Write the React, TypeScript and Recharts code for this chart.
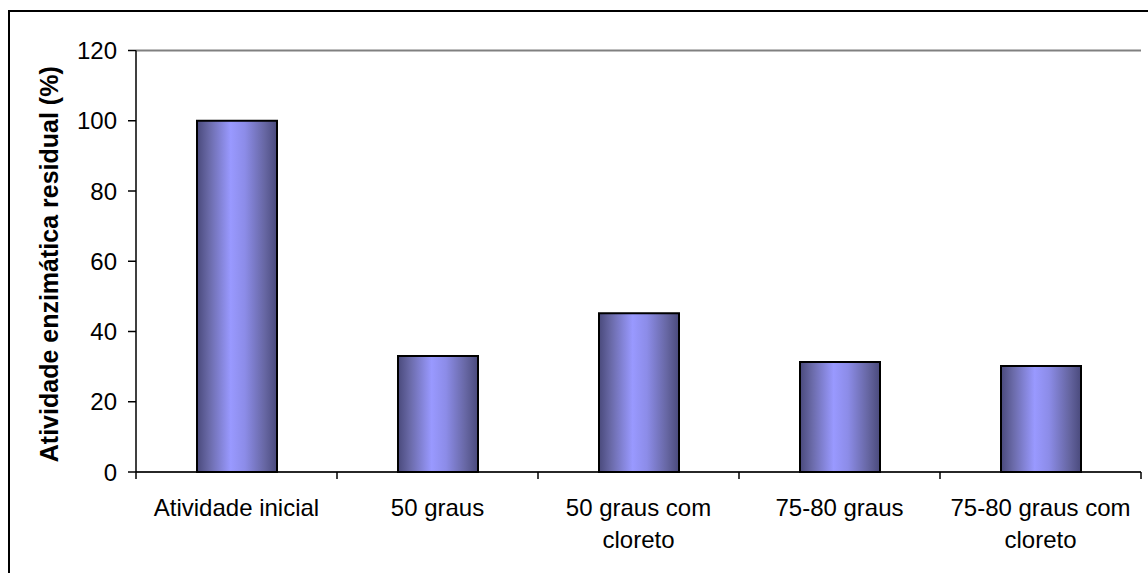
import { BarChart, Bar, XAxis, YAxis, CartesianGrid, ReferenceLine } from 'recharts';

const categories = [
  'Atividade inicial',
  '50 graus',
  '50 graus com cloreto',
  '75-80 graus',
  '75-80 graus com cloreto'
];
const atividade = [100, 33, 45.2, 31.3, 30.2];
const yTicks = [0, 20, 40, 60, 80, 100, 120];

const data = categories.map((name, i) => ({ name, value: atividade[i] }));

const FONT = '"Liberation Sans", Arial, sans-serif';
const BAND = 201;

function wrap(label: string, maxChars: number) {
  const words = label.split(' ');
  const lines: string[] = [];
  let cur = '';
  words.forEach((w) => {
    const next = cur ? cur + ' ' + w : w;
    if (next.length > maxChars && cur) {
      lines.push(cur);
      cur = w;
    } else {
      cur = next;
    }
  });
  if (cur) lines.push(cur);
  return lines;
}

function CategoryTick(props: any) {
  const { x, y, payload, index } = props;
  const lines = wrap(payload.value, 17);
  return (
    <g>
      {index === 0 && <line x1={x - BAND / 2} x2={x - BAND / 2} y1={y} y2={y + 7} stroke="#000" strokeWidth={1.5} />}
      <line x1={x + BAND / 2} x2={x + BAND / 2} y1={y} y2={y + 7} stroke="#000" strokeWidth={1.5} />
      {lines.map((l, i) => (
        <text key={i} x={x} y={y + 44 + i * 32} textAnchor="middle" fontSize={24} fontFamily={FONT} fill="#000">
          {l}
        </text>
      ))}
    </g>
  );
}

function YTitle(props: any) {
  const { viewBox } = props;
  const cx = 39;
  const cy = viewBox.y + viewBox.height / 2 + 3;
  return (
    <text
      x={cx}
      y={cy}
      transform={`rotate(-90 ${cx} ${cy})`}
      textAnchor="middle"
      dominantBaseline="central"
      fontSize={25}
      fontWeight="bold"
      fontFamily={FONT}
      fill="#000"
    >
      Atividade enzimática residual (%)
    </text>
  );
}

export default function App() {
  return (
    <div
      style={{
        position: 'absolute',
        left: 8,
        top: 10,
        borderLeft: '2px solid #000',
        borderTop: '2px solid #000',
        background: '#fff'
      }}
    >
      <BarChart width={1138} height={561} data={data} margin={{ top: 38.5, right: 7, left: 0, bottom: 11 }}>
        <defs>
          <linearGradient id="barShade" x1="0" y1="0" x2="1" y2="0">
            <stop offset="0%" stopColor="#4a4a7c" />
            <stop offset="15%" stopColor="#6a6aa8" />
            <stop offset="42%" stopColor="#9999ff" />
            <stop offset="60%" stopColor="#8c8ce8" />
            <stop offset="85%" stopColor="#6666a2" />
            <stop offset="100%" stopColor="#4a4a7c" />
          </linearGradient>
        </defs>
        <CartesianGrid vertical={false} stroke="#3a3a3a" strokeWidth={1.2} />
        <ReferenceLine yAxisId="left" y={120} stroke="#808080" strokeWidth={2} />
        <XAxis
          dataKey="name"
          height={90}
          tickLine={false}
          tickSize={0}
          tickMargin={0}
          axisLine={{ stroke: '#000', strokeWidth: 1.5 }}
          tick={<CategoryTick />}
          interval={0}
        />
        <YAxis
          yAxisId="left"
          width={126}
          domain={[0, 120]}
          ticks={yTicks}
          tickSize={8}
          tickMargin={11}
          axisLine={{ stroke: '#000', strokeWidth: 1.5 }}
          tickLine={{ stroke: '#000', strokeWidth: 1.5 }}
          tick={{ fontSize: 24, fontFamily: FONT, fill: '#000' }}
          label={<YTitle />}
        />
        <YAxis
          yAxisId="right"
          orientation="right"
          width={0}
          tick={false}
          tickLine={false}
          axisLine={{ stroke: '#808080', strokeWidth: 2 }}
        />
        <Bar
          yAxisId="left"
          dataKey="value"
          barSize={80}
          fill="url(#barShade)"
          stroke="#000"
          strokeWidth={2}
          isAnimationActive={false}
        />
      </BarChart>
    </div>
  );
}
